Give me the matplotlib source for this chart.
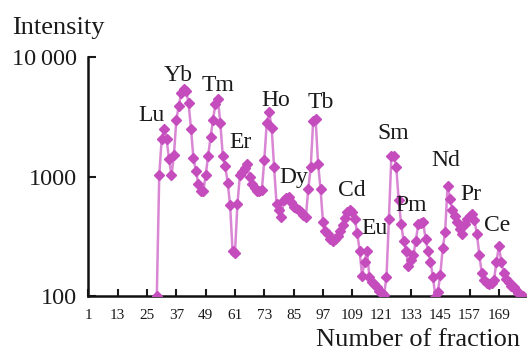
import numpy as np
import matplotlib
matplotlib.use('Agg')
import matplotlib.pyplot as plt
from matplotlib.ticker import FixedLocator, NullLocator

# fraction number and intensity
fraction = np.arange(29, 180)
intensity = [
    100, 1020, 2060, 2500, 2060, 1400, 1020, 1500, 3000, 3900,
    5000, 5350, 5200, 4150, 2500, 1420, 1120, 870, 760, 750,
    1020, 1490, 2130, 3000, 4050, 4450, 2800, 1490, 1230, 890,
    575, 240, 230, 590, 1020, 1090, 1180, 1280, 990, 870,
    800, 760, 760, 770, 1380, 2830, 3440, 2570, 1200, 590,
    520, 460, 630, 660, 670, 610, 555, 540, 520, 505,
    480, 460, 790, 1200, 2930, 3020, 1280, 790, 415, 350,
    330, 300, 290, 300, 320, 350, 390, 450, 500, 520,
    500, 445, 340, 240, 147, 193, 240, 145, 130, 125,
    118, 110, 105, 102, 145, 445, 1490, 1490, 1200, 630,
    400, 290, 240, 180, 200, 220, 290, 400, 410, 415,
    300, 240, 193, 145, 99, 108, 150, 250, 345, 840,
    650, 520, 470, 415, 365, 330, 400, 440, 470, 490,
    430, 330, 220, 155, 136, 128, 125, 128, 136, 193,
    262, 193, 155, 140, 130, 122, 118, 112, 106, 102,
    100,
]

# element labels: name, fraction, intensity
elements = ['Lu', 'Yb', 'Tm', 'Er', 'Ho', 'Dy', 'Tb', 'Cd', 'Eu', 'Sm', 'Pm', 'Nd', 'Pr', 'Ce']
label_x = [27.0, 37.7, 54.0, 63.1, 77.8, 85.2, 96.2, 108.9, 117.9, 125.7, 132.9, 147.2, 157.4, 168.1]
label_y = [3220, 6950, 5730, 1920, 4300, 981, 4140, 764, 369, 2280, 573, 1360, 708, 391]

xticks = list(range(1, 170, 12))
yticks = [100, 1000, 10000]
yticklabels = ['100', '1000', '10\u2009000']

serif = ['Liberation Serif', 'DejaVu Serif']
plt.rcParams['font.family'] = serif

fig = plt.figure(figsize=(5.27, 3.56), dpi=100)
ax = fig.add_axes([0.1677, 0.1685, 0.8323, 0.6713])

ax.plot(fraction, intensity, color='#d986d4', lw=1.8, zorder=2)
ax.plot(fraction, intensity, ls='none', marker='D', ms=4.6,
        color='#c44cbc', mec='#c44cbc', zorder=3)

for name, x, y in zip(elements, label_x, label_y):
    ax.text(x, y, name, fontsize=17, ha='center', va='center', color='#1a1a1a')

ax.set_yscale('log')
ax.set_xlim(1, 180.5)
ax.set_ylim(100, 10000)

ax.xaxis.set_major_locator(FixedLocator(xticks))
ax.set_xticklabels([str(t) for t in xticks])
ax.yaxis.set_major_locator(FixedLocator(yticks))
ax.yaxis.set_minor_locator(NullLocator())
ax.set_yticklabels(yticklabels)

for s in ['top', 'right']:
    ax.spines[s].set_visible(False)
for s in ['left', 'bottom']:
    ax.spines[s].set_linewidth(1.8)
    ax.spines[s].set_color('#111111')

ax.tick_params(axis='x', direction='in', length=5, width=1.5, pad=9,
               labelsize=11, colors='#1a1a1a')
ax.tick_params(axis='y', direction='in', length=6, width=1.5, pad=8,
               labelsize=17.5, colors='#1a1a1a')

fig.text(0.023, 0.922, 'Intensity', fontsize=19, ha='left', va='center', color='#1a1a1a')
fig.text(0.793, 0.045, 'Number of fraction', fontsize=19, ha='center', va='center', color='#1a1a1a')

fig.savefig('out.png', dpi=100)
